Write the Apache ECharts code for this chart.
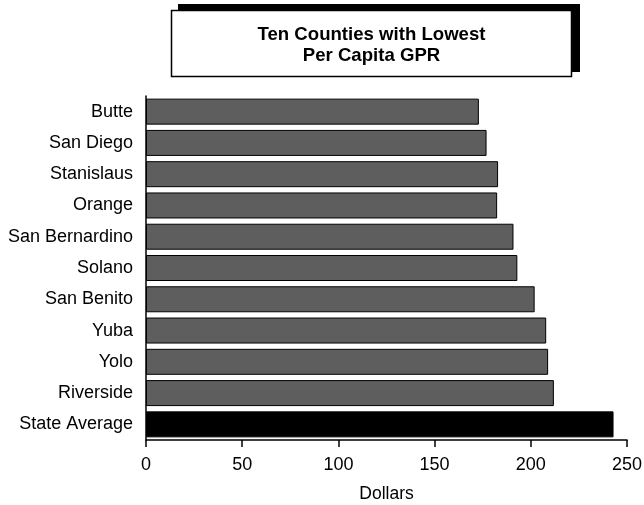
<!DOCTYPE html>
<html>
<head>
<meta charset="utf-8">
<script src="https://cdn.jsdelivr.net/npm/echarts@6/dist/echarts.min.js"></script>
<style>
  html, body { margin: 0; padding: 0; background: #fff; }
  #chart { width: 644px; height: 505px; }
</style>
</head>
<body>
<div id="chart"></div>
<script>
// Per capita GPR by county, ten lowest, plus the statewide average (dollars)
const counties = ['Butte', 'San Diego', 'Stanislaus', 'Orange', 'San Bernardino',
                  'Solano', 'San Benito', 'Yuba', 'Yolo', 'Riverside', 'State Average'];
const dollars = [173, 177, 183, 182.5, 191, 193, 202, 208, 209, 212, 243];
const xTicks = [0, 50, 100, 150, 200, 250];
const titleLines = ['Ten Counties with Lowest', 'Per Capita GPR'];
const axisTitle = 'Dollars';

const FONT = '"Liberation Sans", Arial, Helvetica, sans-serif';
const chart = echarts.init(document.getElementById('chart'), null, { renderer: 'canvas' });

const barData = dollars.map((v, i) => ({
  value: v,
  itemStyle: {
    color: counties[i] === 'State Average' ? '#000000' : '#5e5e5e'
  }
}));

chart.setOption({
  animation: false,
  backgroundColor: '#ffffff',
  graphic: [
    // drop shadow of the title box
    { type: 'rect', shape: { x: 178, y: 4, width: 402, height: 68 },
      style: { fill: '#000' }, z: 10 },
    // title box
    { type: 'rect', shape: { x: 171.5, y: 10.5, width: 400, height: 66 },
      style: { fill: '#fff', stroke: '#000', lineWidth: 1.5 }, z: 11 },
    { type: 'text', x: 371.5, y: 45, z: 12,
      style: { text: titleLines.join('\n'), align: 'center', verticalAlign: 'middle',
               font: 'bold 18.6px ' + FONT, lineHeight: 21, fill: '#000' } }
  ],
  grid: {
    left: 146, right: 17, top: 96, bottom: 65,
    containLabel: false,
    outerBoundsMode: 'none'
  },
  xAxis: {
    type: 'value',
    min: xTicks[0],
    max: xTicks[xTicks.length - 1],
    interval: xTicks[1] - xTicks[0],
    name: axisTitle,
    nameLocation: 'middle',
    nameGap: 45,
    nameTextStyle: { fontFamily: FONT, fontSize: 17.5, color: '#000' },
    axisLine: { show: true, lineStyle: { color: '#000', width: 1.5 } },
    axisTick: { show: true, length: 7, lineStyle: { color: '#000', width: 1.5 } },
    axisLabel: { fontFamily: FONT, fontSize: 18, color: '#000', margin: 16 },
    splitLine: { show: false }
  },
  yAxis: {
    type: 'category',
    data: counties,
    inverse: true,
    axisLine: { show: true, lineStyle: { color: '#000', width: 1.5 } },
    axisTick: { show: false },
    axisLabel: { fontFamily: FONT, fontSize: 18, color: '#000', margin: 13 }
  },
  series: [{
    type: 'bar',
    data: barData,
    barWidth: 26,
    itemStyle: { borderColor: '#000', borderWidth: 1 }
  }]
});
</script>
</body>
</html>
